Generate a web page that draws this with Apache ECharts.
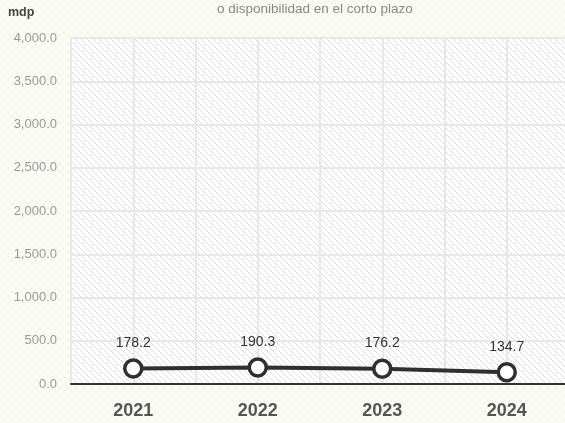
<!DOCTYPE html>
<html>
<head>
<meta charset="utf-8">
<script src="https://cdn.jsdelivr.net/npm/echarts@6/dist/echarts.min.js"></script>
<style>
  html, body { margin: 0; padding: 0; }
  #chart { width: 565px; height: 423px; }
</style>
</head>
<body>
<div id="chart"></div>
<script>
const years = ['2021', '2022', '2023', '2024']
const values = [178.2, 190.3, 176.2, 134.7]
const yMin = 0
const yMax = 4000
const yStep = 500
const unitLabel = 'mdp'
const subtitle = 'o disponibilidad en el corto plazo'

// diagonal hatch tiles
function hatch(size, bg, stroke, width, both) {
  const c = document.createElement('canvas')
  c.width = size
  c.height = size
  const ctx = c.getContext('2d')
  ctx.fillStyle = bg
  ctx.fillRect(0, 0, size, size)
  ctx.strokeStyle = stroke
  ctx.lineWidth = width
  ctx.beginPath()
  ctx.moveTo(-1, -1); ctx.lineTo(size + 1, size + 1)
  ctx.moveTo(-1, size - 1); ctx.lineTo(1, size + 1)
  ctx.moveTo(size - 1, -1); ctx.lineTo(size + 1, 1)
  if (both) {
    ctx.moveTo(size + 1, -1); ctx.lineTo(-1, size + 1)
  }
  ctx.stroke()
  return c
}

const font = "'Liberation Sans', Arial, sans-serif"
const chart = echarts.init(document.getElementById('chart'))

chart.setOption({
  backgroundColor: { image: hatch(8, '#fdfdf8', '#f3f3e8', 1, true), repeat: 'repeat' },
  textStyle: { fontFamily: font },
  graphic: [
    { type: 'text', left: 8, top: 6, style: { text: unitLabel, font: 'bold 12.5px ' + font, fill: '#444' } },
    { type: 'text', left: 217, top: 2, style: { text: subtitle, font: '13.5px ' + font, fill: '#888' } }
  ],
  grid: {
    left: 71, right: -4, top: 38, bottom: 39,
    outerBoundsMode: 'none',
    containLabel: false,
    show: true,
    borderWidth: 0,
    backgroundColor: { image: hatch(6, '#ffffff', '#dedede', 1, false), repeat: 'repeat' }
  },
  xAxis: [
    {
      type: 'category',
      data: years,
      axisLine: { lineStyle: { color: '#333', width: 2 } },
      axisTick: { show: false },
      axisLabel: { color: '#555', fontSize: 18, fontWeight: 'bold', margin: 18 },
      splitLine: { show: false }
    },
    {
      type: 'category',
      data: ['', '', '', '', '', '', '', ''],
      position: 'bottom',
      axisLine: { show: false },
      axisTick: { show: false },
      axisLabel: { show: false },
      splitLine: { show: true, lineStyle: { color: '#e8e8e8', width: 2 } }
    }
  ],
  yAxis: {
    type: 'value',
    min: yMin,
    max: yMax,
    interval: yStep,
    axisLine: { show: false },
    axisTick: { show: false },
    axisLabel: {
      color: '#999',
      fontSize: 13,
      margin: 14,
      formatter: v => v.toLocaleString('en-US', { minimumFractionDigits: 1, maximumFractionDigits: 1 })
    },
    splitLine: { show: true, lineStyle: { color: '#e8e8e8', width: 2 } }
  },
  series: [
    {
      type: 'line',
      data: values,
      symbol: 'circle',
      symbolSize: 17,
      lineStyle: { color: '#2f2f2f', width: 4 },
      itemStyle: { color: '#ffffff', borderColor: '#2f2f2f', borderWidth: 3.5 },
      label: {
        show: true,
        position: 'top',
        distance: 8,
        color: '#333',
        fontSize: 14,
        formatter: p => p.value.toFixed(1)
      },
      z: 5
    }
  ]
})
</script>
</body>
</html>
